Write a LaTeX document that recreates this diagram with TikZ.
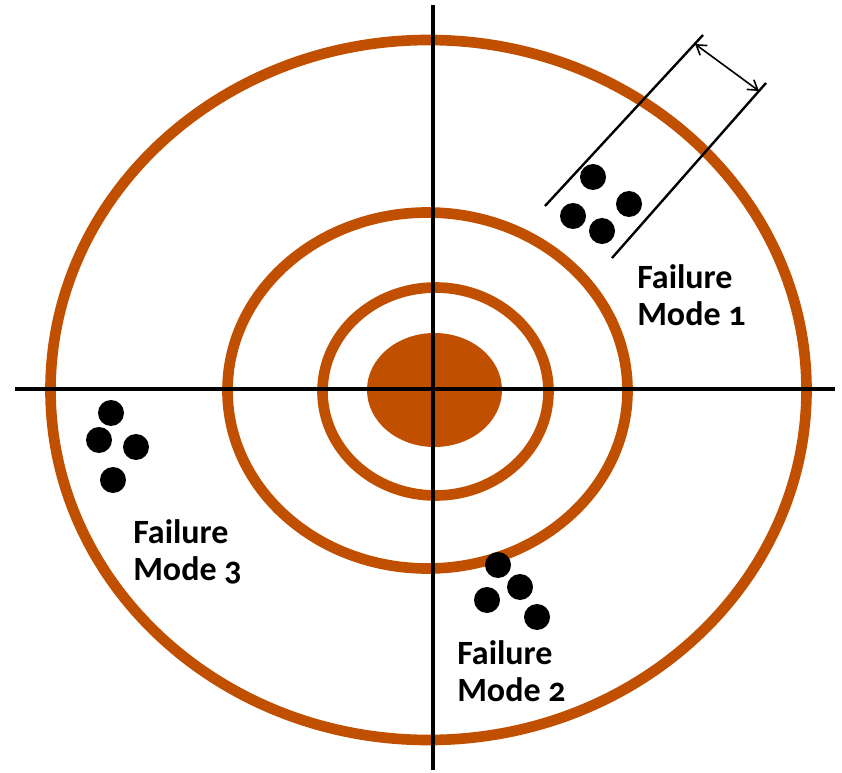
\documentclass[tikz,border=0pt]{standalone}
\usepackage{fontspec}
\setmainfont{Carlito}[Numbers=OldStyle]
\usetikzlibrary{arrows.meta,positioning,calc}
\definecolor{rust}{RGB}{192,80,0}

\begin{document}
\begin{tikzpicture}[x=0.75pt,y=-0.75pt,
      ring/.style={draw=rust,line width=8pt},
      axis/.style={draw=black,line width=2.9pt},
      guide/.style={draw=black,line width=1.8pt},
      hit/.style={circle,fill=black,inner sep=0pt,minimum size=19.5pt},
      lbl/.style={align=left,anchor=north west,inner sep=0pt,font=\fontsize{25.5}{28}\selectfont\bfseries},
      span/.style={{Straight Barb[length=7pt,width=9pt]}-{Straight Barb[length=7pt,width=9pt]},line width=1.2pt}
    ]
      \useasboundingbox (0,0) rectangle (842,773);
      % target rings
      \draw[ring] (428.5,390) ellipse [x radius=378, y radius=350];
      \draw[ring] (427.5,390.5) ellipse [x radius=200, y radius=178];
      \draw[ring] (435.5,391.5) ellipse [x radius=113, y radius=104];
      \fill[rust] (434.5,390) ellipse [x radius=67.5, y radius=57];
      % axes
      \coordinate (top) at (433,5);
      \coordinate (bottom) at (433,770);
      \coordinate (left) at (15,389);
      \coordinate (right) at (835,389);
      \draw[axis] (top) -- (bottom);
      \draw[axis] (left) -- (right);
      % band of mode 1
      \coordinate (g1a) at (545,206);
      \coordinate (g1b) at (703,35);
      \coordinate (g2a) at (612,258);
      \coordinate (g2b) at (766,83);
      \draw[guide] (g1a) -- (g1b);
      \draw[guide] (g2a) -- (g2b);
      \coordinate (w1) at (695,44);
      \coordinate (w2) at (759,91);
      \draw[span] (w1) -- (w2);
      % hits
      \node[hit] (m1a) at (593,177) {};
      \node[hit] (m1b) at (629,204) {};
      \node[hit] (m1c) at (573,216) {};
      \node[hit] (m1d) at (602,231) {};
      \node[hit] (m2a) at (498,565) {};
      \node[hit] (m2b) at (520,587) {};
      \node[hit] (m2c) at (487,600) {};
      \node[hit] (m2d) at (537,617) {};
      \node[hit] (m3a) at (111,413) {};
      \node[hit] (m3b) at (99,440) {};
      \node[hit] (m3c) at (136,447) {};
      \node[hit] (m3d) at (113,480) {};
      % labels
      \node[lbl] (mode1) at (637,264) {Failure\\Mode 1};
      \node[lbl] (mode2) at (457,640) {Failure\\Mode 2};
      \node[lbl] (mode3) at (133,519) {Failure\\Mode 3};
    \end{tikzpicture}
\end{document}
